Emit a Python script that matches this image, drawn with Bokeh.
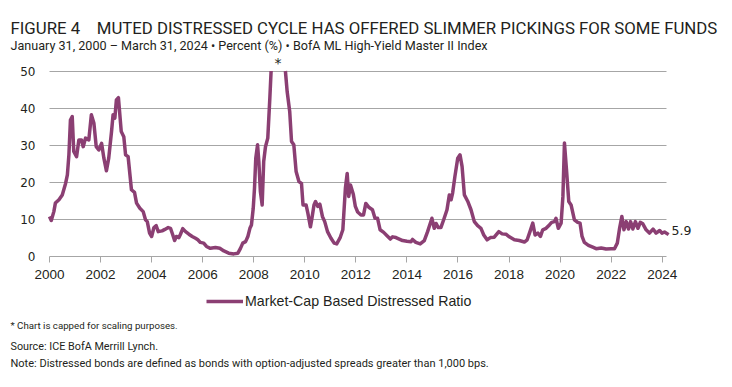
import math
from bokeh.plotting import figure
from bokeh.models import Label, Legend, LegendItem, FixedTicker, Range1d, ColumnDataSource
from bokeh.embed import file_html
from bokeh.resources import INLINE

# ---- data; the 2008-09 peak is capped at 50 ----
years = [
    2000.00, 2000.07, 2000.17, 2000.23, 2000.37, 2000.50, 2000.63, 2000.70, 2000.76, 2000.82,
    2000.89, 2000.95, 2001.06, 2001.15, 2001.25, 2001.32, 2001.41, 2001.54, 2001.64, 2001.74,
    2001.83, 2001.93, 2002.04, 2002.13, 2002.23, 2002.32, 2002.43, 2002.49, 2002.56, 2002.62,
    2002.70, 2002.81, 2002.91, 2002.98, 2003.08, 2003.21, 2003.33, 2003.41, 2003.54, 2003.67,
    2003.76, 2003.83, 2003.92, 2004.00, 2004.09, 2004.18, 2004.26, 2004.41, 2004.52, 2004.65,
    2004.74, 2004.83, 2004.90, 2004.97, 2005.07, 2005.13, 2005.22, 2005.33, 2005.46, 2005.59,
    2005.72, 2005.81, 2005.91, 2006.04, 2006.15, 2006.30, 2006.50, 2006.67, 2006.83, 2007.02,
    2007.22, 2007.38, 2007.48, 2007.57, 2007.68, 2007.77, 2007.85, 2007.91, 2007.98, 2008.03,
    2008.08, 2008.15, 2008.20, 2008.26, 2008.33, 2008.39, 2008.46, 2008.55, 2008.63, 2008.68,
    2008.95,
    2009.24, 2009.31, 2009.41, 2009.48, 2009.57, 2009.66, 2009.77, 2009.87, 2009.93, 2010.05,
    2010.12, 2010.22, 2010.27, 2010.36, 2010.42, 2010.51, 2010.59, 2010.69, 2010.78, 2010.89,
    2011.02, 2011.15, 2011.25, 2011.38, 2011.49, 2011.59, 2011.66, 2011.72, 2011.79, 2011.90,
    2011.98, 2012.07, 2012.20, 2012.30, 2012.39, 2012.52, 2012.65, 2012.75, 2012.85, 2012.95,
    2013.09, 2013.22, 2013.35, 2013.44, 2013.57, 2013.70, 2013.83, 2014.00, 2014.16, 2014.22,
    2014.35, 2014.52, 2014.68, 2014.81, 2014.98, 2015.07, 2015.14, 2015.23, 2015.33, 2015.44,
    2015.57, 2015.66, 2015.73, 2015.79, 2015.88, 2015.99, 2016.08, 2016.16, 2016.25, 2016.38,
    2016.51, 2016.64, 2016.77, 2016.90, 2017.01, 2017.14, 2017.27, 2017.42, 2017.60, 2017.73,
    2017.88, 2018.01, 2018.21, 2018.40, 2018.60, 2018.71, 2018.82, 2018.93, 2019.02, 2019.13,
    2019.23, 2019.32, 2019.45, 2019.58, 2019.67, 2019.78, 2019.84, 2019.93, 2020.04, 2020.11,
    2020.17, 2020.25, 2020.34, 2020.43, 2020.56, 2020.69, 2020.78, 2020.86, 2020.95, 2021.11,
    2021.28, 2021.41, 2021.61, 2021.80, 2022.00, 2022.13, 2022.24, 2022.33, 2022.42, 2022.50,
    2022.59, 2022.68, 2022.76, 2022.85, 2022.95, 2023.05, 2023.14, 2023.24, 2023.37, 2023.50,
    2023.64, 2023.76, 2023.90, 2023.99, 2024.09, 2024.25,
]
distressed_ratio = [
    10.8, 9.7, 12.1, 14.4, 15.3, 16.6, 19.7, 22.0, 27.4, 36.8,
    37.7, 28.3, 26.9, 31.4, 31.4, 29.6, 31.9, 31.4, 38.2, 35.9,
    29.6, 28.7, 30.5, 26.5, 23.1, 26.5, 33.7, 38.2, 37.3, 42.2,
    42.8, 33.7, 32.3, 27.4, 26.9, 18.0, 17.3, 14.4, 13.0, 12.1,
    9.9, 9.4, 6.3, 5.4, 7.8, 8.3, 6.7, 6.9, 7.3, 7.8,
    7.6, 5.8, 4.3, 5.4, 5.1, 6.0, 7.5, 6.7, 6.0, 5.4,
    4.9, 4.5, 3.8, 3.6, 2.7, 2.2, 2.4, 2.2, 1.5, 0.9,
    0.7, 0.9, 2.2, 3.6, 4.0, 5.4, 7.6, 8.5, 13.0, 18.4,
    26.5, 30.1, 25.6, 17.5, 13.9, 25.6, 29.6, 31.9, 42.6, 50.0,
    math.nan,
    50.0, 44.4, 39.0, 31.0, 30.1, 22.9, 20.2, 19.7, 13.9, 13.9,
    11.7, 8.0, 9.9, 13.9, 14.8, 13.5, 14.1, 10.8, 9.4, 6.7,
    5.0, 3.6, 3.4, 5.0, 7.2, 18.4, 22.4, 16.2, 19.3, 16.8,
    13.5, 12.0, 11.2, 11.2, 14.3, 13.2, 12.6, 10.3, 10.3, 7.2,
    6.5, 5.6, 4.7, 5.3, 5.1, 4.7, 4.3, 4.1, 4.0, 4.6,
    3.8, 3.4, 4.3, 6.7, 10.3, 7.6, 8.9, 7.8, 7.8, 9.9,
    12.6, 16.6, 15.3, 17.1, 21.6, 26.5, 27.4, 24.3, 16.6, 14.9,
    12.6, 9.4, 8.3, 7.6, 5.8, 4.5, 5.1, 5.2, 6.7, 6.1,
    6.0, 5.3, 4.5, 4.3, 3.9, 4.5, 6.7, 9.0, 5.8, 6.3,
    5.4, 7.2, 7.6, 8.5, 9.2, 9.4, 10.3, 7.6, 9.0, 16.2,
    30.6, 23.4, 14.8, 13.9, 9.9, 9.2, 9.0, 5.4, 3.8, 3.0,
    2.5, 2.1, 2.3, 2.0, 2.1, 2.1, 3.6, 7.6, 10.8, 7.2,
    9.4, 7.4, 9.4, 7.4, 9.4, 7.6, 9.2, 8.8, 7.2, 6.3,
    7.4, 6.3, 7.0, 6.3, 6.6, 5.9,
]
x_ticks = [2000, 2002, 2004, 2006, 2008, 2010, 2012, 2014, 2016, 2018, 2020, 2022, 2024]
y_ticks = [0, 10, 20, 30, 40, 50]
cap_year = 2008.95
cap_value = 50
last_value = distressed_ratio[-1]
series_name = "Market-Cap Based Distressed Ratio"

title_text = "FIGURE 4\u00a0\u00a0\u00a0\u00a0MUTED DISTRESSED CYCLE HAS OFFERED SLIMMER PICKINGS FOR SOME FUNDS"
subtitle_text = "January 31, 2000 \u2013 March 31, 2024 \u2022 Percent (%) \u2022 BofA ML High-Yield Master II Index"
footnotes = [
    "* Chart is capped for scaling purposes.",
    "Source: ICE BofA Merrill Lynch.",
    "Note: Distressed bonds are defined as bonds with option-adjusted spreads greater than 1,000 bps.",
]

LINE_COLOR = "#8b3f73"
GRID = "#a6a6a6"
TXT = "#231f20"

W, H = 722, 375
PX_PER_YEAR = 25.53
PX_PER_UNIT = 3.71
X0_PX, Y0_PX = 49, 256          # canvas position of (2000, 0)
x_start = 2000 - X0_PX / PX_PER_YEAR
y_end = Y0_PX / PX_PER_UNIT
p = figure(width=W, height=H, output_backend="svg", toolbar_location=None,
           x_range=Range1d(x_start, x_start + W / PX_PER_YEAR),
           y_range=Range1d(y_end - H / PX_PER_UNIT, y_end),
           min_border=0, min_border_left=0, min_border_right=0,
           min_border_top=0, min_border_bottom=0, title=None)
p.outline_line_color = None
p.background_fill_color = "white"
p.border_fill_color = "white"

src = ColumnDataSource(dict(x=years, y=distressed_ratio))
line = p.line("x", "y", source=src, line_color=LINE_COLOR, line_width=3.5, line_join="round")

p.xgrid.grid_line_color = None
p.ygrid.grid_line_color = GRID
p.ygrid.grid_line_width = 1
p.ygrid.ticker = FixedTicker(ticks=y_ticks[1:])
p.ygrid.cross_bounds = (2000, 2024.17)

p.yaxis.fixed_location = 2000
p.yaxis.ticker = FixedTicker(ticks=y_ticks)
p.yaxis.axis_line_color = None
p.yaxis.major_tick_line_color = None
p.yaxis.minor_tick_line_color = None
p.yaxis.major_label_text_font = "DejaVu Sans"
p.yaxis.major_label_text_font_size = "12px"
p.yaxis.major_label_text_color = TXT
p.yaxis.major_label_standoff = 8

p.xaxis.fixed_location = 0
p.xaxis.ticker = FixedTicker(ticks=x_ticks)
p.xaxis.bounds = (2000, 2024.17)
p.xaxis.axis_line_color = GRID
p.xaxis.axis_line_width = 1
p.xaxis.major_tick_line_color = GRID
p.xaxis.major_tick_in = 0
p.xaxis.major_tick_out = 6
p.xaxis.minor_tick_line_color = None
p.xaxis.major_label_text_font = "Liberation Sans"
p.xaxis.major_label_text_font_size = "13.5px"
p.xaxis.major_label_text_color = TXT
p.xaxis.major_label_standoff = 7

# asterisk above the capped peak, last-value label
p.add_layout(Label(x=cap_year, y=cap_value, text="*", text_align="center", text_baseline="bottom",
                   y_offset=0, text_font="DejaVu Sans", text_font_size="14px", text_color=TXT))
p.add_layout(Label(x=years[-1], y=last_value, text=f"{last_value:.1f}", text_align="left",
                   text_baseline="middle", x_offset=3, y_offset=4, text_font="DejaVu Sans",
                   text_font_size="12.5px", text_color=TXT))

legend = Legend(items=[LegendItem(label=series_name, renderers=[line])],
                location=(206, 64), orientation="horizontal",
                label_text_font="Liberation Sans", label_text_font_size="14.2px",
                label_text_color=TXT, glyph_width=37, glyph_height=20, label_height=20,
                label_standoff=2, padding=0, margin=0, spacing=0,
                border_line_color=None, background_fill_alpha=0)
p.add_layout(legend)

# titles & notes (canvas units, origin top-left)
p.add_layout(Label(x=10, y=27, x_units="canvas", y_units="canvas", text=title_text,
                   text_baseline="middle", text_font="Roboto",
                   text_font_size="16.8px", text_color=TXT))
p.add_layout(Label(x=10, y=45, x_units="canvas", y_units="canvas", text=subtitle_text,
                   text_baseline="middle", text_font="Roboto",
                   text_font_size="12.6px", text_color=TXT))
note_y = [325, 346, 363]
note_size = ["9.7px", "10.8px", "11px"]
for t, yy, fs in zip(footnotes, note_y, note_size):
    p.add_layout(Label(x=10, y=yy, x_units="canvas", y_units="canvas", text=t,
                       text_baseline="middle", text_font="Roboto",
                       text_font_size=fs, text_color=TXT))

open("out.html", "w").write(file_html(p, INLINE))
